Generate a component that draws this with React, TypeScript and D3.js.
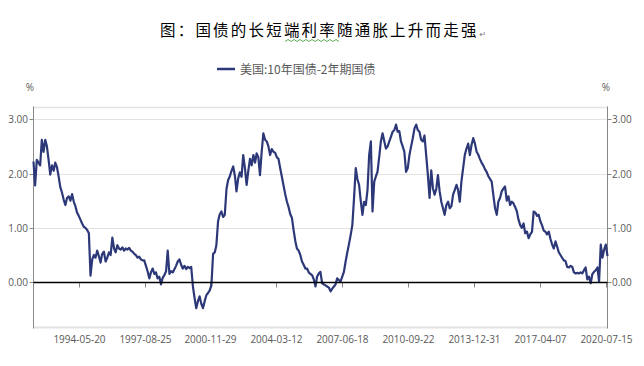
import React, { useEffect, useRef } from 'react';
import * as d3 from 'd3';

// 美国 10年国债 - 2年期国债 利差 (%), monthly readings from 1992-02
const firstMonth = '1992-02-20';
const spread = [
  // 1992 (Feb-Dec)
  2.22, 1.78, 2.25, 2.20, 2.15, 2.62, 2.40, 2.62, 2.50, 2.25, 1.98,
  // 1993
  2.15, 2.05, 2.20, 2.12, 1.95, 1.75, 1.65, 1.52, 1.42, 1.55, 1.58, 1.50,
  // 1994
  1.62, 1.48, 1.40, 1.28, 1.22, 1.15, 1.08, 1.02, 1.00, 0.96, 0.90, 0.12,
  // 1995
  0.42, 0.50, 0.45, 0.58, 0.48, 0.36, 0.52, 0.56, 0.38, 0.45, 0.55, 0.50,
  // 1996
  0.82, 0.62, 0.55, 0.68, 0.62, 0.60, 0.64, 0.58, 0.62, 0.60, 0.63, 0.58,
  // 1997
  0.56, 0.52, 0.50, 0.45, 0.47, 0.42, 0.40, 0.40, 0.30, 0.20, 0.07, 0.18,
  // 1998
  0.25, 0.15, 0.18, 0.07, 0.10, -0.04, 0.08, 0.13, 0.20, 0.58, 0.15, 0.20,
  // 1999
  0.18, 0.24, 0.30, 0.38, 0.42, 0.32, 0.25, 0.30, 0.24, 0.28, 0.26, 0.28,
  // 2000
  -0.08, -0.30, -0.48, -0.35, -0.26, -0.40, -0.48, -0.35, -0.24, -0.20, -0.15, -0.06,
  // 2001
  0.52, 0.55, 0.68, 1.12, 1.25, 1.30, 1.20, 1.24, 1.72, 1.88, 1.95, 2.05,
  // 2002
  2.13, 1.95, 1.67, 1.91, 2.02, 1.94, 2.34, 2.10, 1.79, 2.05, 2.27, 2.15,
  // 2003
  2.34, 2.20, 2.37, 2.30, 1.97, 2.40, 2.74, 2.62, 2.59, 2.50, 2.34, 2.45,
  // 2004
  2.40, 2.38, 2.30, 2.27, 2.10, 1.94, 1.78, 1.62, 1.48, 1.38, 1.25, 1.18,
  // 2005
  0.95, 0.75, 0.62, 0.58, 0.50, 0.38, 0.32, 0.25, 0.25, 0.18, 0.15, 0.13,
  // 2006
  0.05, -0.08, 0.10, 0.16, 0.19, -0.02, -0.04, -0.06, -0.08, -0.10, -0.17, -0.12,
  // 2007
  -0.08, -0.04, 0.07, 0.04, 0.01, 0.10, 0.19, 0.38, 0.55, 0.70, 0.87, 1.05,
  // 2008
  1.55, 2.10, 1.90, 1.79, 1.50, 1.24, 1.48, 1.42, 1.70, 2.34, 2.59, 1.30,
  // 2009
  1.85, 1.95, 2.03, 2.30, 2.59, 2.74, 2.60, 2.46, 2.50, 2.59, 2.68, 2.77,
  // 2010
  2.80, 2.90, 2.77, 2.78, 2.59, 2.50, 2.40, 2.03, 2.10, 2.34, 2.50, 2.65,
  // 2011
  2.83, 2.90, 2.80, 2.77, 2.62, 2.59, 2.70, 2.34, 1.97, 1.55, 2.06, 1.73,
  // 2012
  1.61, 1.72, 1.97, 1.67, 1.48, 1.36, 1.24, 1.42, 1.48, 1.36, 1.40, 1.61,
  // 2013
  1.70, 1.79, 1.70, 1.48, 1.85, 2.10, 2.34, 2.46, 2.55, 2.34, 2.53, 2.65,
  // 2014
  2.55, 2.40, 2.35, 2.27, 2.20, 2.15, 2.08, 2.03, 1.95, 1.90, 1.85, 1.60,
  // 2015
  1.36, 1.24, 1.48, 1.55, 1.67, 1.72, 1.76, 1.50, 1.58, 1.42, 1.48, 1.45,
  // 2016
  1.38, 1.30, 1.15, 1.05, 1.00, 1.08, 0.90, 0.93, 0.81, 0.88, 0.93, 1.30,
  // 2017
  1.28, 1.22, 1.24, 1.12, 1.05, 0.95, 0.93, 0.88, 0.93, 0.80, 0.69, 0.62,
  // 2018
  0.75, 0.65, 0.55, 0.50, 0.45, 0.40, 0.39, 0.28, 0.27, 0.30, 0.28, 0.18,
  // 2019
  0.16, 0.17, 0.16, 0.18, 0.16, 0.22, 0.27, 0.05, 0.10, -0.02, 0.15, 0.19,
  // 2020 (Jan-Aug)
  0.22, 0.27, 0.01, 0.69, 0.45, 0.60, 0.69, 0.48,
];

const xTickLabels = [
  '1994-05-20', '1997-08-25', '2000-11-29', '2004-03-12', '2007-06-18',
  '2010-09-22', '2013-12-31', '2017-04-07', '2020-07-15',
];
const yTicks = [0, 1, 2, 3];

const title = '图：国债的长短端利率随通胀上升而走强';
const seriesName = '美国:10年国债-2年期国债';
const lineColor = '#2c3878';

const App = () => {
  const ref = useRef<SVGSVGElement | null>(null);

  useEffect(() => {
    const svg = d3.select(ref.current);
    svg.selectAll('*').remove();

    const W = 644, H = 366;
    const left = 33.5, right = 607.5, top = 107.5, bottom = 327.5;
    const parse = d3.timeParse('%Y-%m-%d');
    const start = parse(firstMonth) as Date;
    const data = spread.map((v, i) => ({ date: d3.timeMonth.offset(start, i), v }));

    const x = d3.scaleTime()
      .domain([start, data[data.length - 1].date])
      .range([left, right]);
    const y = d3.scaleLinear().domain([-0.835, 3.215]).range([bottom, top]);

    svg.append('rect').attr('width', W).attr('height', H).attr('fill', '#fff');

    // title
    const titleText = svg.append('text')
      .attr('x', 160).attr('y', 36)
      .attr('font-family', '"Noto Sans CJK SC", sans-serif')
      .attr('font-size', 15.5)
      .attr('letter-spacing', 2.2)
      .attr('fill', '#000')
      .text(title);
    const tw = (titleText.node() as SVGTextElement).getComputedTextLength();
    svg.append('text')
      .attr('x', 160 + tw + 1).attr('y', 37)
      .attr('font-family', '"DejaVu Sans", sans-serif')
      .attr('font-size', 8)
      .attr('fill', '#777')
      .text('↵');
    // green wavy underline under 端利率
    const wave = d3.range(0, 19).map(i => [285 + i * 3, i % 2 ? 39.5 : 41.5] as [number, number]);
    svg.append('path')
      .attr('d', d3.line()(wave))
      .attr('fill', 'none').attr('stroke', '#3a9a3a').attr('stroke-width', 0.8);

    // legend
    svg.append('line')
      .attr('x1', 217).attr('x2', 235).attr('y1', 69).attr('y2', 69)
      .attr('stroke', lineColor).attr('stroke-width', 2.5);
    svg.append('text')
      .attr('x', 240).attr('y', 73.5)
      .attr('font-family', '"Noto Sans CJK SC", sans-serif')
      .attr('font-size', 12)
      .attr('fill', '#595959')
      .text(seriesName);

    // % units
    const small = (g: any) => g
      .attr('font-family', '"Open Sans", sans-serif')
      .attr('font-size', 10)
      .attr('fill', '#595959');
    svg.append('text').attr('x', 30).attr('y', 91).attr('text-anchor', 'middle').call(small).text('%');
    svg.append('text').attr('x', 606).attr('y', 91).attr('text-anchor', 'middle').call(small).text('%');

    // plot frame + grid
    svg.append('line').attr('x1', left).attr('x2', right).attr('y1', top).attr('y2', top)
      .attr('stroke', '#e3e3e3').attr('stroke-width', 1.5);
    svg.append('line').attr('x1', left).attr('x2', right).attr('y1', bottom).attr('y2', bottom)
      .attr('stroke', '#e3e3e3').attr('stroke-width', 2);
    yTicks.filter(t => t !== 0).forEach(t => {
      svg.append('line')
        .attr('x1', left).attr('x2', right)
        .attr('y1', Math.round(y(t)) + 0.5).attr('y2', Math.round(y(t)) + 0.5)
        .attr('stroke', '#e3e3e3').attr('stroke-width', 1.2);
    });

    // left / right axes
    [left, right].forEach((ax, k) => {
      svg.append('line').attr('x1', ax).attr('x2', ax).attr('y1', top - 1).attr('y2', bottom + 1)
        .attr('stroke', '#888').attr('stroke-width', 1);
      yTicks.forEach(t => {
        const ty = Math.round(y(t)) + 0.5;
        svg.append('line')
          .attr('x1', ax).attr('x2', k === 0 ? ax - 4 : ax + 4)
          .attr('y1', ty).attr('y2', ty)
          .attr('stroke', '#888');
        svg.append('text')
          .attr('x', k === 0 ? 28 : 612)
          .attr('y', ty + 3.5)
          .attr('text-anchor', k === 0 ? 'end' : 'start')
          .call(small)
          .text(t.toFixed(2));
      });
    });

    // x tick marks on zero line and labels
    const y0 = Math.round(y(0)) + 0.5;
    xTickLabels.forEach(s => {
      const tx = Math.round(x(parse(s) as Date)) + 0.5;
      svg.append('line').attr('x1', tx).attr('x2', tx).attr('y1', y0).attr('y2', y0 + 5)
        .attr('stroke', '#888');
      svg.append('text')
        .attr('x', tx).attr('y', 343)
        .attr('text-anchor', 'middle')
        .call(small)
        .text(s);
    });

    // series
    const line = d3.line<{ date: Date; v: number }>()
      .x(d => x(d.date))
      .y(d => y(d.v));
    svg.append('path')
      .datum(data)
      .attr('d', line)
      .attr('fill', 'none')
      .attr('stroke', lineColor)
      .attr('stroke-width', 2.2)
      .attr('stroke-linejoin', 'round');

    // zero line
    svg.append('line').attr('x1', left).attr('x2', right).attr('y1', y0).attr('y2', y0)
      .attr('stroke', '#000').attr('stroke-width', 1.5);
  }, []);

  return (
    <svg ref={ref} width={644} height={366}
      style={{ position: 'absolute', left: 0, top: 0, display: 'block' }} />
  );
};

export default App;
